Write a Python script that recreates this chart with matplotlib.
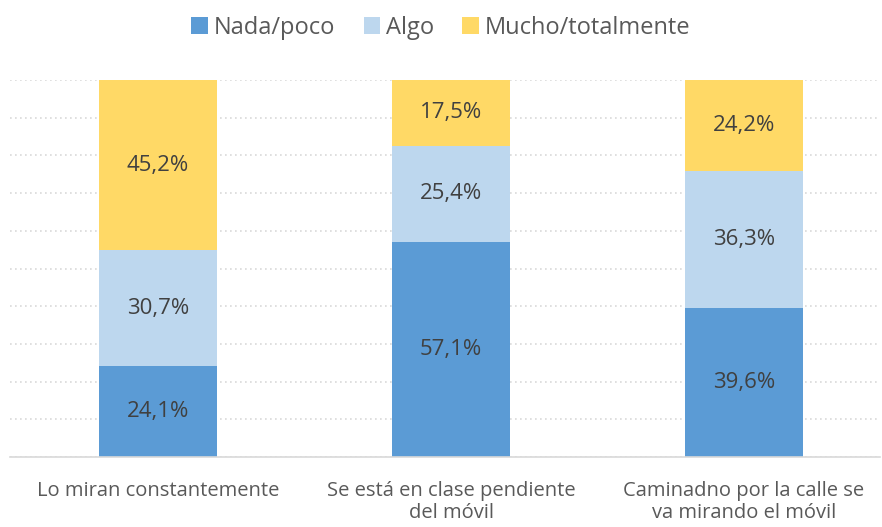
import numpy as np
import matplotlib.pyplot as plt

plt.rcParams['font.family'] = ['Open Sans', 'DejaVu Sans']

categorias = ["Lo miran constantemente",
              "Se está en clase pendiente\ndel móvil",
              "Caminadno por la calle se\nva mirando el móvil"]
series = ["Nada/poco", "Algo", "Mucho/totalmente"]
nada = [24.1, 57.1, 39.6]
algo = [30.7, 25.4, 36.3]
mucho = [45.2, 17.5, 24.2]
colores = ["#5B9BD5", "#BDD7EE", "#FFD966"]

fig = plt.figure(figsize=(8.82, 5.27), dpi=100)
ax = fig.add_axes([10 / 882, 1 - 457 / 527, 870 / 882, 377 / 527])

x = np.arange(len(categorias))
bottom = np.zeros(len(categorias))
for nombre, vals, col in zip(series, [nada, algo, mucho], colores):
    bars = ax.bar(x, vals, width=0.40, bottom=bottom, color=col, label=nombre, zorder=2)
    for b, v in zip(bars, vals):
        ax.text(b.get_x() + b.get_width() / 2, b.get_y() + b.get_height() / 2,
                f"{v:.1f}%".replace(".", ","), ha="center", va="center",
                fontsize=16, color="#404040", zorder=3)
    bottom += np.array(vals)

ax.set_xlim(-0.505, 2.464)
ax.set_ylim(0, 100)
ax.set_yticks(np.arange(0, 101, 10))
ax.yaxis.grid(True, linestyle=(0, (1, 2)), color="#D9D9D9", linewidth=1.2, zorder=0)
ax.tick_params(axis="y", left=False, labelleft=False)
ax.tick_params(axis="x", bottom=False, labelsize=14.5, labelcolor="#595959", pad=14)
ax.set_xticks(x)
ax.set_xticklabels(categorias, linespacing=1.1)
for s in ["top", "left", "right"]:
    ax.spines[s].set_visible(False)
ax.spines["bottom"].set_color("#D9D9D9")
ax.spines["bottom"].set_linewidth(1.2)

fig.legend(loc="center", bbox_to_anchor=(0.5, 1 - 28 / 527), ncol=3, frameon=False,
           fontsize=17, labelcolor="#595959", handlelength=0.7, handleheight=0.7,
           handletextpad=0.25, columnspacing=1.2)

fig.savefig("out.png", dpi=100)
